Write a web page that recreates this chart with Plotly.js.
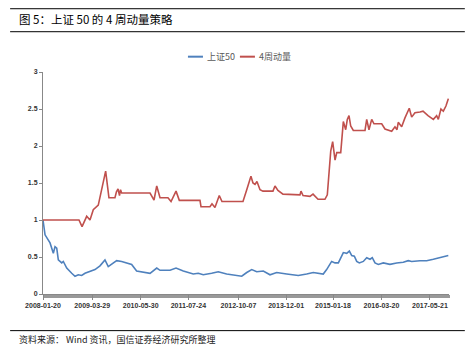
<!DOCTYPE html>
<html>
<head>
<meta charset="utf-8">
<script src="https://cdn.plot.ly/plotly-3.0.1.min.js"></script>
<style>html,body{margin:0;padding:0;background:#fff;}#chart{width:472px;height:351px;}</style>
</head>
<body>
<div id="chart"></div>
<script>
// ---- data ----
const seriesNames = ["上证50", "4周动量"];
const seriesColors = ["#4F81BD", "#C0504D"];

const sz50Dates = ["2008-01-20","2008-02-07","2008-03-22","2008-04-20","2008-05-05","2008-05-20","2008-06-03","2008-07-03","2008-07-17","2008-08-16","2008-09-29","2008-10-28","2008-11-26","2008-12-26","2009-01-24","2009-03-09","2009-04-22","2009-06-05","2009-07-19","2009-08-17","2009-09-16","2009-10-30","2009-12-13","2010-01-26","2010-03-11","2010-04-24","2010-06-22","2010-08-20","2010-10-18","2010-11-16","2011-02-12","2011-04-06","2011-06-09","2011-09-05","2011-10-19","2011-12-02","2012-02-14","2012-04-12","2012-06-25","2012-11-05","2012-12-19","2013-02-01","2013-03-17","2013-05-14","2013-07-12","2013-09-09","2013-12-06","2014-03-18","2014-05-31","2014-07-28","2014-10-24","2014-11-23","2015-01-06","2015-02-05","2015-03-06","2015-03-27","2015-04-19","2015-05-19","2015-06-11","2015-07-02","2015-07-25","2015-08-15","2015-09-07","2015-10-12","2015-11-11","2015-12-10","2015-12-30","2016-01-23","2016-02-21","2016-04-05","2016-06-03","2016-08-01","2016-09-28","2016-11-11","2016-12-11","2017-02-22","2017-04-22","2017-06-20","2017-08-18","2017-10-16","2017-10-30"];
const sz50Values = [1.00,0.80,0.69,0.55,0.64,0.62,0.46,0.42,0.44,0.35,0.28,0.24,0.26,0.25,0.28,0.31,0.33,0.38,0.46,0.37,0.40,0.45,0.44,0.42,0.40,0.31,0.29,0.28,0.35,0.32,0.32,0.35,0.31,0.27,0.28,0.26,0.28,0.30,0.27,0.24,0.29,0.33,0.30,0.31,0.26,0.29,0.27,0.25,0.27,0.29,0.27,0.33,0.44,0.42,0.42,0.49,0.56,0.55,0.58,0.52,0.51,0.44,0.42,0.44,0.49,0.47,0.49,0.42,0.40,0.42,0.40,0.42,0.43,0.45,0.44,0.45,0.45,0.47,0.49,0.52,0.52];

const momDates = ["2008-01-20","2008-12-02","2008-12-29","2009-02-08","2009-03-09","2009-04-07","2009-05-21","2009-06-14","2009-07-25","2009-08-23","2009-10-15","2009-10-28","2009-11-11","2009-11-24","2009-12-03","2009-12-13","2010-08-02","2010-08-20","2010-09-24","2010-10-18","2010-11-16","2011-01-25","2011-02-21","2011-04-06","2011-05-05","2011-11-03","2011-11-12","2012-01-30","2012-02-17","2012-03-14","2012-04-21","2012-05-15","2012-10-21","2012-11-16","2012-12-19","2013-01-06","2013-01-25","2013-02-12","2013-03-02","2013-03-19","2013-04-15","2013-05-11","2013-08-07","2013-08-25","2013-09-20","2013-11-03","2014-04-02","2014-04-11","2014-04-29","2014-06-29","2014-07-26","2014-09-08","2014-11-08","2014-11-29","2014-12-16","2014-12-29","2015-01-15","2015-02-05","2015-02-20","2015-03-27","2015-04-19","2015-05-10","2015-05-24","2015-06-08","2015-06-23","2015-07-16","2015-10-27","2015-11-11","2015-12-01","2015-12-25","2016-01-14","2016-03-22","2016-04-20","2016-06-18","2016-07-17","2016-08-04","2016-08-15","2016-09-14","2016-10-13","2016-11-20","2016-12-11","2017-01-09","2017-02-22","2017-03-21","2017-05-04","2017-06-20","2017-07-19","2017-08-03","2017-08-26","2017-09-16","2017-10-09","2017-10-30"];
const momValues = [1.00,1.00,0.91,1.05,1.00,1.14,1.20,1.37,1.66,1.30,1.30,1.38,1.42,1.33,1.41,1.365,1.365,1.365,1.27,1.46,1.30,1.30,1.25,1.39,1.265,1.265,1.18,1.18,1.22,1.17,1.33,1.25,1.25,1.25,1.41,1.50,1.59,1.50,1.48,1.52,1.41,1.39,1.39,1.46,1.40,1.35,1.34,1.39,1.33,1.32,1.35,1.28,1.28,1.34,1.68,1.93,2.06,1.81,1.91,1.91,2.33,2.22,2.36,2.41,2.27,2.21,2.21,2.36,2.22,2.36,2.30,2.30,2.23,2.20,2.26,2.22,2.32,2.26,2.38,2.51,2.39,2.45,2.46,2.47,2.41,2.36,2.41,2.36,2.50,2.47,2.54,2.64];

const xTickDates = ["2008-01-20","2009-03-29","2010-05-30","2011-07-24","2012-10-07","2013-12-01","2015-01-18","2016-03-20","2017-05-21"];
const yTickVals = [0, 0.5, 1, 1.5, 2, 2.5, 3];
const yTickText = ["0", "0.5", "1", "1.5", "2", "2.5", "3"];
const titleText = "图 5：上证 50 的 4 周动量策略";
const sourceText = "资料来源： Wind 资讯，国信证券经济研究所整理";

// ---- chart ----
const traces = [
  {x: sz50Dates, y: sz50Values, name: seriesNames[0], type: "scatter", mode: "lines",
   line: {color: seriesColors[0], width: 1.6}},
  {x: momDates, y: momValues, name: seriesNames[1], type: "scatter", mode: "lines",
   line: {color: seriesColors[1], width: 1.6}}
];

const tickFont = {family: "Liberation Sans, Arial, sans-serif", size: 7, color: "#333", weight: "bold"};
const legendFont = {family: "Noto Sans CJK SC, sans-serif", size: 9, color: "#595959"};

// manual legend (short line samples like the reference)
const legendY = 1.069;
const legendItems = [
  {x0: 0.357, x1: 0.394, tx: 0.399},
  {x0: 0.485, x1: 0.522, tx: 0.526}
];
const legendShapes = legendItems.map((it, i) => ({
  type: "line", xref: "paper", yref: "paper", x0: it.x0, x1: it.x1, y0: legendY, y1: legendY,
  line: {color: seriesColors[i], width: 2}
}));
const legendAnnots = legendItems.map((it, i) => ({
  text: seriesNames[i], xref: "paper", yref: "paper", x: it.tx, y: legendY,
  xanchor: "left", yanchor: "middle", showarrow: false, font: legendFont
}));

const layout = {
  width: 472, height: 351,
  margin: {l: 43, r: 23, t: 72, b: 57},
  paper_bgcolor: "#fff", plot_bgcolor: "#fff",
  showlegend: false,
  xaxis: {
    type: "date", range: ["2008-01-20", "2017-11-05"],
    tickmode: "array", tickvals: xTickDates, ticktext: xTickDates,
    ticks: "outside", ticklen: 5, tickcolor: "#888", tickwidth: 1,
    minor: {dtick: 7 * 86400000, tick0: "2008-01-20", ticks: "outside", ticklen: 3, tickcolor: "#999", tickwidth: 1, showgrid: false},
    showline: true, linecolor: "#888", linewidth: 1,
    showgrid: false, zeroline: false,
    tickfont: tickFont, tickangle: 0, automargin: false
  },
  yaxis: {
    range: [0, 3], tickmode: "array", tickvals: yTickVals, ticktext: yTickText,
    ticks: "outside", ticklen: 3, tickcolor: "#888",
    showline: true, linecolor: "#888", linewidth: 1,
    showgrid: false, zeroline: false,
    tickfont: tickFont, automargin: false
  },
  shapes: [
    {type: "line", xref: "paper", yref: "paper", x0: -0.081, x1: 1.039, y0: 1.285, y1: 1.285, line: {color: "#000", width: 1}},
    {type: "line", xref: "paper", yref: "paper", x0: -0.081, x1: 1.039, y0: 1.1815, y1: 1.1815, line: {color: "#000", width: 1}},
    {type: "line", xref: "paper", yref: "paper", x0: -0.081, x1: 1.039, y0: -0.165, y1: -0.165, line: {color: "#000", width: 1}}
  ].concat(legendShapes),
  annotations: [
    {text: titleText, xref: "paper", yref: "paper", x: -0.064, y: 1.24, xanchor: "left", yanchor: "middle",
     showarrow: false, font: {family: "Noto Sans CJK SC, sans-serif", size: 11.5, color: "#000"}},
    {text: sourceText, xref: "paper", yref: "paper", x: -0.064, y: -0.207, xanchor: "left", yanchor: "middle",
     showarrow: false, font: {family: "Noto Sans CJK SC, sans-serif", size: 9, color: "#222"}}
  ].concat(legendAnnots)
};

Plotly.newPlot("chart", traces, layout, {displayModeBar: false, staticPlot: true});
</script>
</body>
</html>
